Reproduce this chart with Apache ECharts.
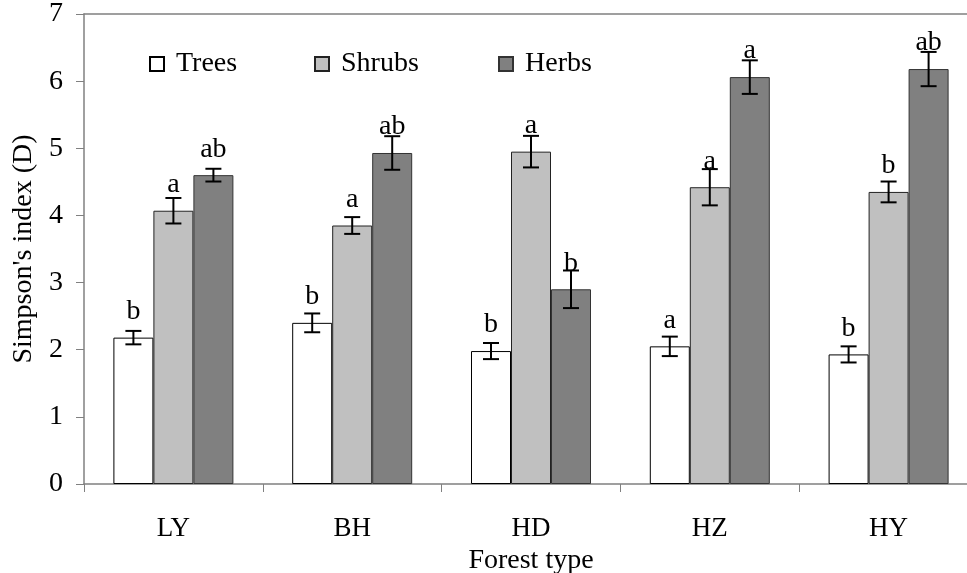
<!DOCTYPE html>
<html>
<head>
<meta charset="utf-8">
<script src="https://cdn.jsdelivr.net/npm/echarts@6/dist/echarts.min.js"></script>
<style>
html,body{margin:0;padding:0;background:#fff;}
#chart{width:967px;height:573px;}
</style>
</head>
<body>
<div id="chart"></div>
<script>
const categories = ['LY', 'BH', 'HD', 'HZ', 'HY'];
const seriesNames = ['Trees', 'Shrubs', 'Herbs'];
const trees  = [2.18, 2.40, 1.98, 2.05, 1.93];
const shrubs = [4.07, 3.85, 4.95, 4.42, 4.35];
const herbs  = [4.60, 4.93, 2.90, 6.06, 6.18];
const treesErr  = [0.10, 0.14, 0.12, 0.145, 0.12];
const shrubsErr = [0.19, 0.125, 0.235, 0.27, 0.155];
const herbsErr  = [0.095, 0.25, 0.28, 0.25, 0.255];
const treesLetters  = ['b', 'b', 'b', 'a', 'b'];
const shrubsLetters = ['a', 'a', 'a', 'a', 'b'];
const herbsLetters  = ['ab', 'ab', 'b', 'a', 'ab'];
const yTicks = [0, 1, 2, 3, 4, 5, 6, 7];

const FONT = "'Liberation Serif', 'Times New Roman', serif";
const FS = 28;
const BAR_W = 40;
const colors = ['#ffffff', '#c0c0c0', '#808080'];
const borders = ['#000000', '#222222', '#333333'];
const values = [trees, shrubs, herbs];
const errs = [treesErr, shrubsErr, herbsErr];
const letters = [treesLetters, shrubsLetters, herbsLetters];

const chart = echarts.init(document.getElementById('chart'), null, {renderer: 'canvas'});

const barSeries = seriesNames.map((name, s) => ({
  name: name,
  type: 'bar',
  xAxisIndex: 0,
  barWidth: BAR_W,
  barGap: '0%',
  itemStyle: {color: colors[s], borderColor: borders[s], borderWidth: 1},
  label: {
    show: true,
    position: 'top',
    distance: 12,
    fontFamily: FONT,
    fontSize: FS,
    color: '#000',
    formatter: p => letters[s][p.dataIndex]
  },
  data: values[s],
  z: 2
}));

const errSeries = seriesNames.map((name, s) => ({
  type: 'custom',
  xAxisIndex: 0,
  silent: true,
  z: 5,
  data: categories.map((c, i) => [i, values[s][i] - errs[s][i], values[s][i] + errs[s][i]]),
  renderItem: function (params, api) {
    const off = (s - 1) * BAR_W;
    const lo = api.coord([api.value(0), api.value(1)]);
    const hi = api.coord([api.value(0), api.value(2)]);
    const x = lo[0] + off;
    const cap = 8;
    const st = {stroke: '#000', lineWidth: 2};
    return {
      type: 'group',
      children: [
        {type: 'line', shape: {x1: x, y1: lo[1], x2: x, y2: hi[1]}, style: st},
        {type: 'line', shape: {x1: x - cap, y1: lo[1], x2: x + cap, y2: lo[1]}, style: st},
        {type: 'line', shape: {x1: x - cap, y1: hi[1], x2: x + cap, y2: hi[1]}, style: st}
      ]
    };
  }
}));

const legendPos = [149, 314, 498];
const legends = seriesNames.map((name, s) => ({
  data: [name],
  left: legendPos[s],
  top: 50,
  padding: 0,
  itemWidth: 14,
  itemHeight: 14,
  icon: 'rect',
  selectedMode: false,
  formatter: n => ' ' + n,
  textStyle: {fontFamily: FONT, fontSize: FS, color: '#000'}
}));

chart.setOption({
  animation: false,
  backgroundColor: '#fff',
  textStyle: {fontFamily: FONT},
  legend: legends,
  grid: {left: 84, top: 14, width: 894, height: 470, containLabel: false, outerBoundsMode: 'none'},
  xAxis: [{
    type: 'category',
    data: categories,
    position: 'bottom',
    axisLine: {lineStyle: {color: '#808080', width: 1.5}},
    axisTick: {show: true, length: 8, inside: false, lineStyle: {color: '#808080'}},
    axisLabel: {fontFamily: FONT, fontSize: 27, color: '#000', margin: 31},
    name: 'Forest type',
    nameLocation: 'middle',
    nameGap: 60,
    nameTextStyle: {fontFamily: FONT, fontSize: FS, color: '#000'}
  }, {
    type: 'category',
    data: categories,
    position: 'top',
    axisLine: {show: true, lineStyle: {color: '#808080', width: 1.5}},
    axisTick: {show: false},
    axisLabel: {show: false}
  }],
  yAxis: {
    type: 'value',
    min: yTicks[0],
    max: yTicks[yTicks.length - 1],
    interval: 1,
    axisLine: {show: true, lineStyle: {color: '#808080', width: 1.5}},
    axisTick: {show: true, length: 8, lineStyle: {color: '#808080'}},
    splitLine: {show: false},
    axisLabel: {fontFamily: FONT, fontSize: FS, color: '#000', margin: 21},
    name: "Simpson's index (D)",
    nameLocation: 'middle',
    nameGap: 46,
    nameTextStyle: {fontFamily: FONT, fontSize: FS, color: '#000'}
  },
  series: barSeries.concat(errSeries)
});
</script>
</body>
</html>
